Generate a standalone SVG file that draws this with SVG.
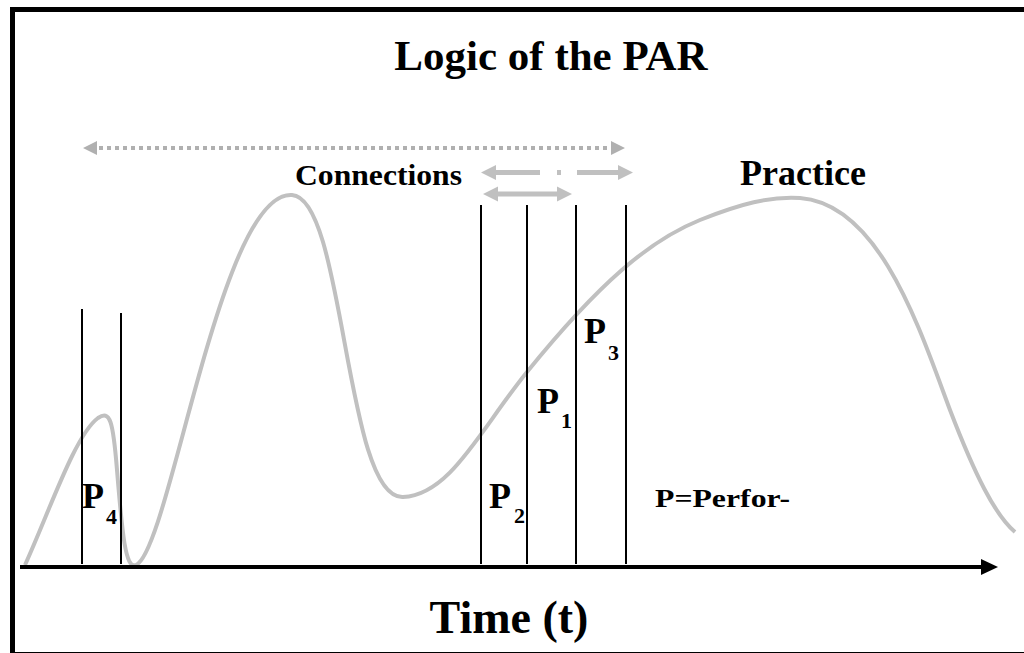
<svg xmlns="http://www.w3.org/2000/svg" width="1024" height="653" viewBox="0 0 1024 653">
<defs>
<style>
.t{font-family:"Liberation Serif","Times New Roman",serif;font-weight:bold;fill:#000}
.v{stroke:#000;stroke-width:2;fill:none}
.g{stroke:#c0c0c0;fill:none}
.gf{fill:#c0c0c0}
</style>
</defs>
<rect x="0" y="0" width="1024" height="653" fill="#fff"/>
<rect id="frame" x="12.5" y="9.5" width="1100" height="645" fill="none" stroke="#000" stroke-width="5"/>
<g id="title"><text class="t" x="551" y="70" font-size="43" text-anchor="middle">Logic of the PAR</text></g>
<g id="curve"><path class="g" stroke-width="4" d="M25,565 C50,510 75,435 98,418 C110,410 113,420 117,470 C122,530 125,570 136,565 C170,550 220,190 292,195 C345,198 345,500 403,497 C450,495 480,430 527,372 C600,282 650,240 700,220 C740,204 770,196 800,198 C880,204 920,330 950,410 C975,475 995,515 1015,532"/></g>
<g id="verticals">
<line class="v" x1="82" y1="309" x2="82" y2="564"/>
<line class="v" x1="121" y1="313" x2="121" y2="564"/>
<line class="v" x1="481" y1="205" x2="481" y2="564"/>
<line class="v" x1="527" y1="205" x2="527" y2="564"/>
<line class="v" x1="576" y1="205" x2="576" y2="564"/>
<line class="v" x1="626" y1="205" x2="626" y2="564"/>
</g>
<g id="connectors">
<line x1="99" y1="148" x2="611" y2="148" stroke="#b0b0b0" stroke-width="4" stroke-dasharray="4 4"/>
<path d="M83,148 L97,141 L97,155 z M625,148 L611,141 L611,155 z" fill="#b0b0b0"/>
<path d="M488,172.5 H540 M557,172.5 H561 M577,172.5 H624" stroke="#c0c0c0" stroke-width="5" fill="none"/>
<path class="gf" d="M481,172.5 L496,165 L496,180 z M633,172.5 L618,165 L618,180 z"/>
<line x1="490" y1="194" x2="565" y2="194" stroke="#c0c0c0" stroke-width="5"/>
<path class="gf" d="M483,194 L498,186.5 L498,201.5 z M572,194 L557,186.5 L557,201.5 z"/>
<line x1="20" y1="567" x2="985" y2="567" stroke="#000" stroke-width="4"/>
<path d="M998,567 L981,559 L981,575 z" fill="#000"/>
</g>
<g id="labels">
<text class="t" x="295" y="185" font-size="30" textLength="167" lengthAdjust="spacingAndGlyphs">Connections</text>
<text class="t" x="740" y="185" font-size="36">Practice</text>
<text class="t" x="509" y="633" font-size="46" text-anchor="middle">Time (t)</text>
<text class="t" x="655" y="507" font-size="25" textLength="135" lengthAdjust="spacingAndGlyphs">P=Perfor-</text>
</g>
<g id="p4"><text class="t" x="82" y="508" font-size="36">P</text><text class="t" x="106" y="524" font-size="22">4</text></g>
<g id="p2"><text class="t" x="489" y="508" font-size="36">P</text><text class="t" x="514" y="523" font-size="22">2</text></g>
<g id="p1"><text class="t" x="537" y="413" font-size="36">P</text><text class="t" x="561" y="428" font-size="22">1</text></g>
<g id="p3"><text class="t" x="584" y="343" font-size="36">P</text><text class="t" x="608" y="360" font-size="22">3</text></g>
</svg>
